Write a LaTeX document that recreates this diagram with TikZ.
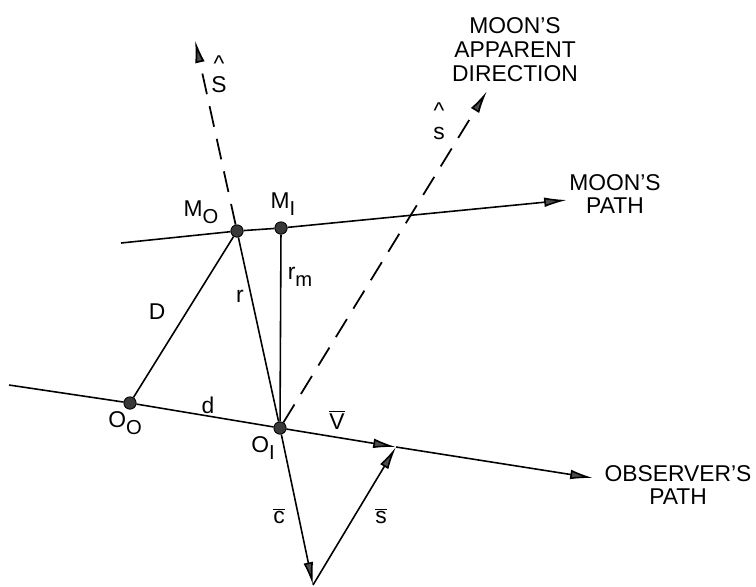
\documentclass[tikz,border=0pt]{standalone}
\usepackage{fontspec}
\setmainfont{Liberation Sans}
\usetikzlibrary{arrows.meta}
\tikzset{
  trail/.style={line width=0.9pt},
  vec/.style={line width=0.9pt,-{Latex[length=13pt,width=5.5pt,fill=gray!60!black]}},
  sight/.style={line width=1pt,dash pattern=on 12pt off 7pt,-{Latex[length=13pt,width=5.5pt,fill=gray!60!black]}},
  spot/.style={circle,draw,fill=gray!45!black,minimum size=7pt,inner sep=0pt,line width=0.5pt},
  lbl/.style={font=\fontsize{13}{13.6}\selectfont,inner sep=1pt},
  hatted/.style={lbl,align=center,font=\fontsize{13}{12}\selectfont}
}
\newcommand{\lsub}[2]{#1\raisebox{-4pt}{\fontsize{11.5}{11.5}\selectfont #2}}
\newcommand{\barlbl}[1]{$\overline{\mbox{#1}}$}

\begin{document}
\begin{tikzpicture}[x=0.02cm,y=-0.02cm]
  \useasboundingbox (0,0) rectangle (756,586);
  % points on the two paths
  \node[spot] (O0) at (130,403) {};
  \node[spot] (O1) at (280,428) {};
  \node[spot] (M0) at (237,231) {};
  \node[spot] (M1) at (281,228) {};
  \coordinate (obsstart) at (9,385);
  \coordinate (vtip) at (396,447);
  \coordinate (obsend) at (593,478);
  \coordinate (moonstart) at (121,243);
  \coordinate (moonend) at (567,200);
  \coordinate (Stip) at (195,40);
  \coordinate (apptip) at (487,91);
  \coordinate (ctip) at (313,585);
  % paths
  \draw[trail] (obsstart) -- (O0) -- (O1);
  \draw[vec] (O1) -- (vtip);
  \draw[vec] (vtip) -- (obsend);
  \draw[trail] (moonstart) -- (M0) -- (M1);
  \draw[vec] (M1) -- (moonend);
  % lines of sight
  \draw[sight] (M0) -- (Stip);
  \draw[sight] (O1) -- (apptip);
  \draw[trail] (O0) -- (M0);
  \draw[trail] (M0) -- (O1);
  \draw[trail] (M1) -- (O1);
  \draw[vec] (O1) -- (ctip);
  \draw[vec] (ctip) -- (vtip);
  % labels
  \node[lbl] (tMO) at (201,212) {\lsub{M}{O}};
  \node[lbl] (tMI) at (283,204) {\lsub{M}{I}};
  \node[lbl] (trm) at (300,277) {\lsub{r}{m}};
  \node[lbl] (tr) at (240,296) {r};
  \node[lbl] (tD) at (157,312) {D};
  \node[lbl] (td) at (208,405) {d};
  \node[lbl] (tOO) at (125,423) {\lsub{O}{O}};
  \node[lbl] (tOI) at (263,448) {\lsub{O}{I}};
  \node[lbl] (tV) at (337,420) {\barlbl{V}};
  \node[lbl] (tc) at (279,516) {\barlbl{c}};
  \node[lbl] (ts) at (381,516) {\barlbl{s}};
  \node[hatted] (tS) at (219,74) {\textasciicircum\\S};
  \node[hatted] (tsh) at (439,121) {\textasciicircum\\s};
  \node[lbl,align=center] (tapp) at (515,50) {MOON'S\\APPARENT\\DIRECTION};
  \node[lbl,align=center] (tmoon) at (615,194) {MOON'S\\PATH};
  \node[lbl,align=center] (tobs) at (678,485) {OBSERVER'S\\PATH};
\end{tikzpicture}
\end{document}
